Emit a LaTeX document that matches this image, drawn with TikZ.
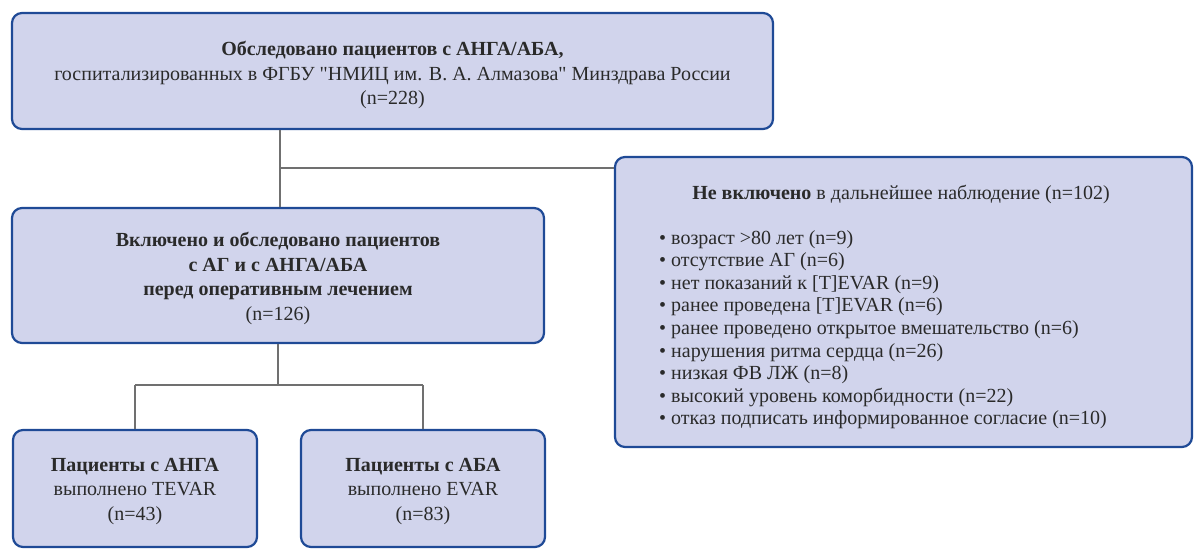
\documentclass[tikz,border=0pt]{standalone}
\usepackage{fontspec}
\setmainfont{Liberation Serif}
\newfontfamily\qfont{Liberation Serif}
\definecolor{boxblue}{HTML}{1F4A96}
\definecolor{boxfill}{HTML}{D1D4EC}
\definecolor{conngray}{HTML}{707070}
\definecolor{textgray}{HTML}{2A2A2A}
\begin{document}
\begin{tikzpicture}[x=1pt,y=-1pt,
  box/.style={draw=boxblue, line width=2.2pt, fill=boxfill, rounded corners=10pt, inner sep=0pt},
  ctext/.style={inner sep=0pt, align=center, text=textgray, font=\fontsize{20}{24.5}\selectfont},
  conn/.style={draw=conngray, line width=1.3pt},
  txt/.style={inner sep=0pt, text=textgray, font=\fontsize{20}{22.6}\selectfont}]
\useasboundingbox (0,0) rectangle (1200,559);
\node[box, minimum width=761pt, minimum height=116pt] (top) at (392.5,71) {};
\node[ctext] (toptext) at ([yshift=-4pt]top.center)
  {\textbf{Обследовано пациентов с АНГА/АБА,}\\
   госпитализированных в ФГБУ {\qfont"}НМИЦ им. В. А. Алмазова{\qfont"} Минздрава России\\
   (n=228)};
\node[box, minimum width=532pt, minimum height=135pt] (mid) at (278,275.5) {};
\node[ctext] (midtext) at ([yshift=-3pt]mid.center)
  {\textbf{Включено и обследовано пациентов}\\
   \textbf{с АГ и с АНГА/АБА}\\
   \textbf{перед оперативным лечением}\\
   (n=126)};
\node[box, minimum width=577pt, minimum height=290pt] (excl) at (903.5,302) {};
\node[txt, anchor=center] (title) at (901,194)
  {\textbf{Не включено} в дальнейшее наблюдение (n=102)};
\node[txt, anchor=north west, align=left] (list) at (659,230)
  {• возраст >80 лет (n=9)\\
   • отсутствие АГ (n=6)\\
   • нет показаний к [T]EVAR (n=9)\\
   • ранее проведена [T]EVAR (n=6)\\
   • ранее проведено открытое вмешательство (n=6)\\
   • нарушения ритма сердца (n=26)\\
   • низкая ФВ ЛЖ (n=8)\\
   • высокий уровень коморбидности (n=22)\\
   • отказ подписать информированное согласие (n=10)};
\node[box, minimum width=244pt, minimum height=117pt] (bl) at (135,488.5) {};
\node[ctext] (bltext) at ([yshift=-3pt]bl.center)
  {\textbf{Пациенты с АНГА}\\выполнено TEVAR\\(n=43)};
\node[box, minimum width=244pt, minimum height=117pt] (br) at (423,488.5) {};
\node[ctext] (brtext) at ([yshift=-3pt]br.center)
  {\textbf{Пациенты с АБА}\\выполнено EVAR\\(n=83)};
\coordinate (j) at (280,168);
\coordinate (k) at (278,385);
\draw[conn] (top.south -| j) -- (mid.north -| j);
\draw[conn] (j) -- (j -| excl.west);
\draw[conn] (mid.south) -- (k);
\draw[conn] (bl.north |- k) -- (br.north |- k);
\draw[conn] (bl.north |- k) -- (bl.north);
\draw[conn] (br.north |- k) -- (br.north);
\end{tikzpicture}
\end{document}
